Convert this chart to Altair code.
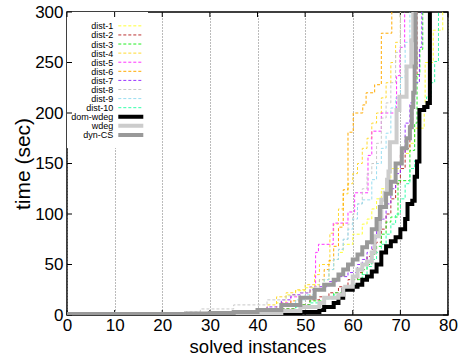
import altair as alt
import pandas as pd

series_names = ["dist-1", "dist-2", "dist-3", "dist-4", "dist-5", "dist-6", "dist-7",
                "dist-8", "dist-9", "dist-10", "dom-wdeg", "wdeg", "dyn-CS"]
series_colors = ["#ffff33", "#bb3333", "#22ee22", "#ffd92f", "#ff33ff", "#ffaa00", "#9933ff",
                 "#c8c8c8", "#99ddf0", "#33ffaa", "#000000", "#cccccc", "#999999"]
series_dash = [[3, 2]] * 10 + [[1, 0]] * 3
series_width = [1] * 10 + [4, 4, 4]

x_ticks = [0, 10, 20, 30, 40, 50, 60, 70, 80]
y_ticks = [0, 50, 100, 150, 200, 250, 300]

# (solved instances, time) step corners
dist_1 = [(0, 0.5), (30, 1), (38, 3), (42, 6), (44, 12), (46, 20), (48, 24), (50, 27), (52, 30),
          (54, 35), (55, 45), (56, 55), (57, 62), (58, 70), (60, 80), (62, 90), (63, 95), (64, 105),
          (65, 115), (66, 125), (67, 135), (68, 145), (70, 160), (72, 170), (73, 185), (75, 205),
          (75.2, 250), (76.9, 282), (78.9, 300)]
dist_2 = [(0, 0.5), (30, 1), (40, 3), (45, 6), (48, 10), (51, 15), (53, 18), (55, 22), (57, 28),
          (59, 35), (61, 42), (62, 50), (63, 58), (64, 65), (65, 72), (66, 85), (67, 100), (68, 115),
          (69, 130), (70, 145), (71, 165), (72, 190), (72.6, 213), (72.9, 236), (73.5, 300)]
dist_3 = [(0, 0.5), (30, 1), (40, 3), (45, 6), (48, 10), (51, 14), (54, 18), (56, 22), (58, 28),
          (60, 35), (62, 45), (63, 50), (64, 60), (65, 68), (66, 80), (67, 92), (68, 97), (69.5, 133),
          (72, 163), (73, 190), (73.5, 238), (74.1, 263), (74.7, 300)]
dist_4 = [(0, 0.5), (30, 1), (38, 4), (42, 10), (44, 18), (46, 22), (48, 25), (50, 30), (52, 40),
          (53, 50), (55.2, 81), (56, 90), (57, 105), (58, 120), (59, 130), (60, 140), (61, 150),
          (62, 165), (63, 175), (64, 190), (65, 200), (66, 215), (67, 230), (68, 250), (69, 270),
          (70, 300)]
dist_5 = [(0, 0.3), (30, 1), (38, 3), (42, 6), (45, 12), (47, 18), (49, 22), (51, 28), (52.2, 62),
          (52.8, 70), (55.9, 91), (59, 102), (60.4, 121), (63.2, 158), (64, 182), (66, 200),
          (69.2, 237), (69.9, 265), (70.9, 300)]
dist_6 = [(0, 0.3), (30, 1), (38, 3), (42, 6), (45, 10), (47, 14), (49, 18), (51, 24), (53, 35),
          (54, 45), (55, 54), (56, 68), (57, 87), (58, 124), (59, 181), (60.1, 200), (62.1, 208),
          (62.8, 220), (64.6, 228), (66, 279), (68.2, 300)]
dist_7 = [(0, 0.5), (30, 1), (38, 3), (42, 8), (45, 15), (47, 20), (49, 22), (51, 25), (53, 28),
          (55, 33), (57, 38), (59, 42), (61, 50), (62, 55), (63, 62), (64, 75), (65, 85), (66, 95),
          (67, 110), (68, 125), (69, 140), (70, 160), (71, 190), (72, 210), (73, 230), (74, 265),
          (74.5, 300)]
dist_8 = [(0, 0.5), (15, 1), (25, 3), (28, 6), (35, 10), (42, 15), (46, 19), (49, 22), (51, 28),
          (53, 35), (55, 45), (56, 55), (57, 65), (58, 75), (59, 90), (60, 100), (61, 110),
          (62, 125), (63, 140), (64, 150), (65, 170), (66, 195), (67, 210), (68, 230), (69, 260),
          (70, 300)]
dist_9 = [(0, 0.3), (30, 1), (40, 4), (45, 10), (48, 15), (50, 20), (52, 26), (54, 35), (55, 45),
          (56, 55), (57, 65), (58, 75), (59, 85), (60, 95), (61, 110), (62, 114), (64, 134),
          (65, 150), (66, 165), (67, 180), (68, 205), (69, 215), (70, 235), (71, 270), (72, 300)]
dist_10 = [(0, 0.5), (30, 1), (40, 3), (45, 5), (48, 8), (51, 12), (54, 16), (56, 20), (58, 25),
           (60, 30), (62, 40), (63, 48), (64, 55), (65, 62), (66, 70), (67, 80), (68, 90), (69, 100),
           (70, 115), (71, 130), (72, 145), (73, 153), (74, 203), (75.5, 216), (76.5, 230),
           (77.2, 251), (78, 300)]
dom_wdeg = [(0, 0.5), (35, 1), (42, 1.5), (46, 2), (49, 3), (53, 5), (54, 8), (56, 12), (57, 17),
            (58, 25), (60, 28), (61, 30), (62, 35), (63, 38), (64, 43), (65, 50), (66, 62), (67, 68),
            (68, 73), (69, 77), (70, 85), (71, 95), (71.5, 110), (72.5, 113), (73, 137),
            (73.5, 152), (74, 203), (75, 206), (75.7, 210), (76.2, 300)]
wdeg = [(0, 0.5), (30, 1), (40, 2), (45, 4), (49, 8), (53, 12), (54, 17), (57, 20), (58, 28),
        (60, 38), (61, 45), (62, 50), (63, 53), (64, 62), (64.6, 78), (65.5, 86), (65.7, 97),
        (66, 114), (66.7, 121), (67.2, 134), (67.5, 142), (67.8, 171), (69.2, 203), (69.8, 216),
        (71.3, 246), (72.3, 272), (72.7, 300)]
dyn_cs = [(0, 1), (25, 1.5), (30, 2), (35, 3), (40, 5), (45, 10), (49, 17), (52, 25), (54, 30),
          (56, 35), (57, 40), (58, 45), (59, 50), (60, 55), (61, 60), (62, 67), (63, 72), (64, 85),
          (65, 95), (65.7, 107), (67, 120), (68, 132), (69, 150), (70.3, 165), (71.3, 175),
          (72, 186), (72.4, 206), (72.7, 220), (73, 246), (73.2, 300)]

series_points = [dist_1, dist_2, dist_3, dist_4, dist_5, dist_6, dist_7, dist_8, dist_9, dist_10,
                 dom_wdeg, wdeg, dyn_cs]

rows = []
for name, pts in zip(series_names, series_points):
    for i, (n, t) in enumerate(pts):
        rows.append({"series": name, "n": n, "t": t, "order": i})
df = pd.DataFrame(rows)
legend_df = pd.DataFrame({"series": series_names})

FONT = "Liberation Sans"
W, H = 381, 303
TICK = 5

x_scale = alt.Scale(domain=[0, 80], nice=False)
y_scale = alt.Scale(domain=[0, 300], nice=False)
x_axis = alt.Axis(values=x_ticks, title="solved instances")
color_enc = alt.Color("series:O", sort=series_names,
                      scale=alt.Scale(type="ordinal", domain=series_names, range=series_colors),
                      legend=None)
dash_enc = alt.StrokeDash("series:O", sort=series_names,
                          scale=alt.Scale(type="ordinal", domain=series_names, range=series_dash),
                          legend=None)
width_enc = alt.StrokeWidth("series:O", sort=series_names,
                            scale=alt.Scale(type="ordinal", domain=series_names, range=series_width),
                            legend=None)

backdrop = alt.Chart(pd.DataFrame({"a": [0]})).mark_rect(color="white").encode(
    x=alt.value(0), x2=alt.value(81), y=alt.value(0), y2=alt.value(136)
)

xt = pd.DataFrame({"v": x_ticks})
yt = pd.DataFrame({"v": y_ticks})
tick_bottom = alt.Chart(xt).mark_rule(color="black", strokeWidth=1).encode(
    x=alt.X("v:Q", scale=x_scale, axis=x_axis), y=alt.value(H), y2=alt.value(H - TICK))
tick_top = alt.Chart(xt).mark_rule(color="black", strokeWidth=1).encode(
    x=alt.X("v:Q", scale=x_scale, axis=x_axis), y=alt.value(0), y2=alt.value(TICK))
tick_left = alt.Chart(yt).mark_rule(color="black", strokeWidth=1).encode(
    y=alt.Y("v:Q", scale=y_scale, axis=None), x=alt.value(0), x2=alt.value(TICK))
tick_right = alt.Chart(yt).mark_rule(color="black", strokeWidth=1).encode(
    y=alt.Y("v:Q", scale=y_scale, axis=None), x=alt.value(W), x2=alt.value(W - TICK))

lines = alt.Chart(df).mark_line(interpolate="step-after", clip=True, strokeCap="butt").encode(
    x=alt.X("n:Q", scale=x_scale, axis=x_axis),
    y=alt.Y("t:Q", scale=y_scale,
            axis=alt.Axis(values=y_ticks, title="time (sec)")),
    color=color_enc, strokeDash=dash_enc, strokeWidth=width_enc,
    order="order:Q",
)

# legend inside the plot, top left: label, then line sample
legend_y = alt.Y("series:N", sort=series_names,
                 scale=alt.Scale(type="point", domain=series_names, range=[9.3, 127.5]),
                 axis=None)
legend_text = alt.Chart(legend_df).mark_text(
    align="right", baseline="middle", font=FONT, fontSize=9, color="black", dy=0.5
).encode(x=alt.value(46.3), y=legend_y, text="series:N")
legend_line = alt.Chart(legend_df).mark_rule(strokeCap="butt").encode(
    x=alt.value(51.3), x2=alt.value(76.3), y=legend_y,
    color=color_enc, strokeDash=dash_enc, strokeWidth=width_enc,
)

chart = alt.layer(
    backdrop, tick_bottom, tick_top, tick_left, tick_right, lines, legend_text, legend_line
).resolve_scale(y="independent").properties(
    width=W, height=H,
    padding={"left": 67, "top": 12, "right": 13, "bottom": 47},
    autosize=alt.AutoSizeParams(type="none"),
).configure_view(
    stroke="#000000", strokeWidth=1.5
).configure_axis(
    domain=False, ticks=False, grid=True, gridDash=[1, 2], gridColor="#777777", gridWidth=1,
    labelFont=FONT, labelFontSize=17, labelColor="#000000", labelFlush=False,
    titleFont=FONT, titleFontWeight="normal", titleColor="#000000",
).configure_axisX(
    labelPadding=2, titlePadding=4, titleFontSize=18.5
).configure_axisY(
    labelPadding=4, titlePadding=1, titleFontSize=21
)

chart.save("out.html", embed_options={"renderer": "svg", "actions": False})
